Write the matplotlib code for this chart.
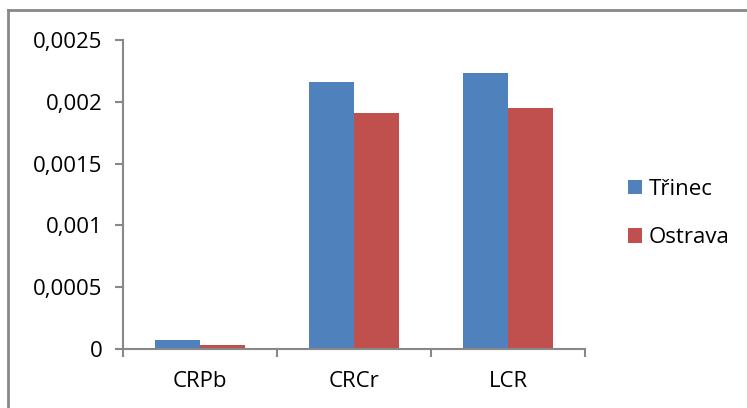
import numpy as np
import matplotlib
matplotlib.use('Agg')
import matplotlib.pyplot as plt
from matplotlib.lines import Line2D

categories = ['CRPb', 'CRCr', 'LCR']
trinec = [0.00007, 0.00216, 0.00223]
ostrava = [0.00003, 0.00191, 0.00195]
series_names = ['Třinec', 'Ostrava']
yticks = [0, 0.0005, 0.001, 0.0015, 0.002, 0.0025]
ytick_labels = ['0', '0,0005', '0,001', '0,0015', '0,002', '0,0025']

plt.rcParams['font.family'] = ['Open Sans', 'DejaVu Sans']
fs = 16

fig = plt.figure(figsize=(7.47, 4.08), dpi=100)
ax = fig.add_axes([123 / 747, 1 - 349 / 408, 462 / 747, 309 / 408])

x = np.arange(len(categories))
w = 0.289
ax.bar(x - w / 2, trinec, w, color='#4F81BD', label=series_names[0])
ax.bar(x + w / 2, ostrava, w, color='#C0504D', label=series_names[1])

ax.set_xlim(-0.5, 2.5)
ax.set_ylim(0, 0.0025)
ax.set_yticks(yticks)
ax.set_yticklabels(ytick_labels, fontsize=fs)
ax.set_xticks(x)
ax.set_xticklabels(categories, fontsize=fs)
ax.set_xticks([-0.5, 0.5, 1.5, 2.5], minor=True)
ax.tick_params(axis='x', which='major', length=0, pad=16)
ax.tick_params(axis='x', which='minor', length=6, color='#888888', width=1.5)
ax.tick_params(axis='y', length=6, color='#888888', width=1.5, pad=9)
for s in ['top', 'right']:
    ax.spines[s].set_visible(False)
for s in ['left', 'bottom']:
    ax.spines[s].set_color('#888888')
    ax.spines[s].set_linewidth(1.5)

ax.legend(loc='center left', bbox_to_anchor=(628 / 747, 1 - 213.5 / 408),
          bbox_transform=fig.transFigure, frameon=False, borderpad=0,
          borderaxespad=0, fontsize=fs, handlelength=0.63, handleheight=0.63,
          labelspacing=1.25, handletextpad=0.3)

# outer frame
fig.add_artist(Line2D([8 / 747, 8 / 747], [0, 1 - 10 / 408], color='#888888', lw=2))
fig.add_artist(Line2D([8 / 747, 1], [1 - 10 / 408, 1 - 10 / 408], color='#888888', lw=2))

fig.savefig('out.png', dpi=100)
